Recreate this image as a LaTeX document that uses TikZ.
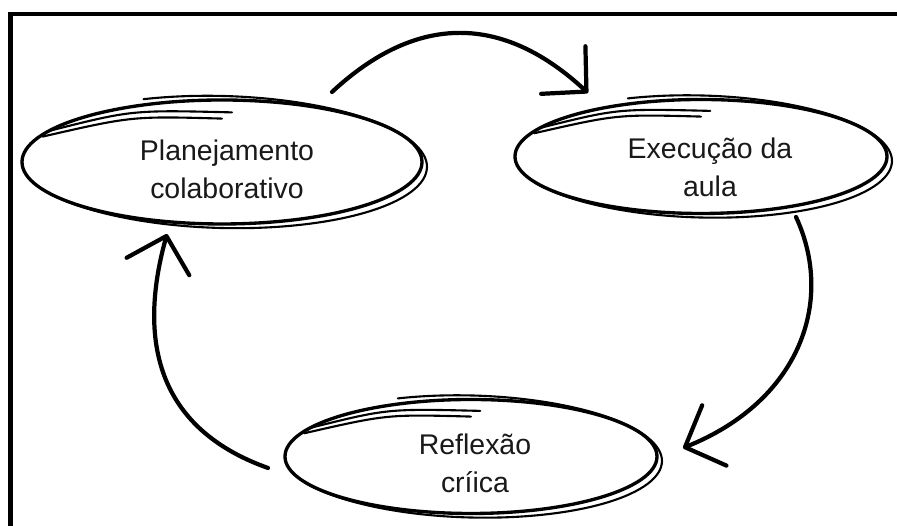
\documentclass[tikz,border=0pt]{standalone}
\usepackage{fontspec}
\setmainfont{Liberation Sans}
\usetikzlibrary{arrows.meta}
\tikzset{
  ring/.style={line width=1.9pt},
  trace/.style={line width=1.2pt,line cap=round},
  flow/.style={line width=2.4pt,line cap=round,-{Straight Barb[length=18pt 0,width=37pt 0,round]}},
  caption/.style={align=center,font=\fontsize{16.2}{21.5}\selectfont,text=black!90,inner sep=0pt},
}
\begin{document}
\begin{tikzpicture}[x=0.02cm,y=0.02cm]
\useasboundingbox (0,0) rectangle (897,526);
\fill[white] (0,0) rectangle (897,526);
\draw[line width=2.3pt] (10.5,-5) -- (10.5,511.7) -- (902,511.7);
% centres of the rings
\coordinate (plan-c) at (222,364);
\coordinate (exec-c) at (701,369.5);
\coordinate (refl-c) at (471,69.5);
\node[caption] (plan) at (227,357) {Planejamento\\colaborativo};
\node[caption] (exec) at (710,358.5) {Execução da\\aula};
\node[caption] (refl) at (475,63) {Reflexão\\críica};
% hand drawn rings
\foreach \n/\rx/\ry in {plan/200/62,exec/186/57,refl/186/57}{
  \begin{scope}[shift={(\n-c)}]
    \draw[ring] (0,0) ellipse ({\rx} and {\ry});
    \draw[trace,rotate=-1.5] (113:{\rx+5} and {\ry+4}) arc[start angle=113,end angle=-150,x radius=\rx+5,y radius=\ry+4];
    \draw[trace] (150:{\rx} and {\ry}) .. controls (-0.45*\rx,0.84*\ry) .. (0.05*\rx,0.8*\ry);
    \draw[trace] (155:{\rx-2} and {\ry-2}) .. controls (-0.45*\rx,0.74*\ry) .. (0,0.7*\ry);
  \end{scope}
}
% cycle arrows
\coordinate (plan-out) at (332,434);
\coordinate (exec-in) at (588,433);
\coordinate (exec-out) at (796,309);
\coordinate (refl-in) at (683,78);
\coordinate (refl-out) at (268,58);
\coordinate (plan-in) at (167,292);
\draw[flow] (plan-out) .. controls (417,513) and (503,512) .. (exec-in);
\draw[flow] (exec-out) .. controls (835,225) and (800,125) .. (refl-in);
\draw[flow] (refl-out) .. controls (150,100) and (140,195) .. (plan-in);
\end{tikzpicture}
\end{document}
